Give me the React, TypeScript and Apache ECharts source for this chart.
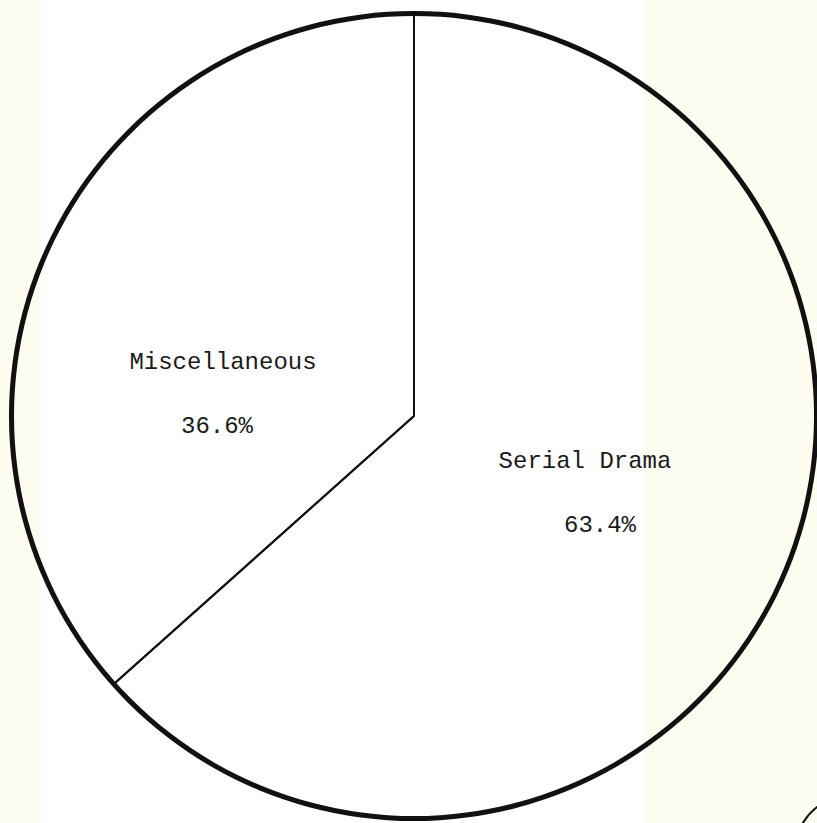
import React, { useEffect, useRef } from "react";
import * as echarts from "echarts";

const categories = ["Serial Drama", "Miscellaneous"];
const shares = [63.4, 36.6];
const outline = [100];

export default function App() {
  const ref = useRef<HTMLDivElement>(null);
  useEffect(() => {
    document.body.style.margin = "0";
    const chart = echarts.init(ref.current!, null, { renderer: "svg" });
    const labelSpots = [
      { x: 585, y: 493 },
      { x: 223, y: 394 },
    ];
    const valuePad = [
      [0, 0, 0, 30],
      [0, 12, 0, 0],
    ];
    const baseText = {
      fontFamily: "Liberation Mono",
      fontSize: 24,
      lineHeight: 32,
      color: "#1a1a1a",
    };
    chart.setOption({
      animation: false,
      backgroundColor: "#ffffff",
      graphic: [
        { type: "rect", z: -10, shape: { x: 0, y: 0, width: 41, height: 823 }, style: { fill: "#fdfcf0" } },
        { type: "rect", z: -10, shape: { x: 645, y: 0, width: 172, height: 823 }, style: { fill: "#fdfcf0" } },
        { type: "circle", shape: { cx: 852, cy: 852, r: 57 }, style: { fill: "none", stroke: "#111", lineWidth: 2 } },
      ],
      series: [
        {
          type: "pie",
          center: [414, 416],
          radius: [0, 402],
          startAngle: 90,
          clockwise: true,
          silent: true,
          itemStyle: { color: "rgba(0,0,0,0)", borderColor: "#111", borderWidth: 2 },
          label: {
            show: true,
            position: "inside",
            formatter: (p: any) => `{n|${p.name}}\n\n{v|${p.value}%}`,
            ...baseText,
            align: "center",
          },
          labelLine: { show: false },
          labelLayout: (params: any) => ({
            x: labelSpots[params.dataIndex].x,
            y: labelSpots[params.dataIndex].y,
            align: "center",
            verticalAlign: "middle",
          }),
          data: categories.map((c, i) => ({
            name: c,
            value: shares[i],
            label: {
              rich: {
                n: { ...baseText },
                v: { ...baseText, padding: valuePad[i] },
              },
            },
          })),
        },
        {
          type: "pie",
          center: [414, 416],
          radius: [400, 405],
          silent: true,
          label: { show: false },
          labelLine: { show: false },
          itemStyle: { color: "#111", borderWidth: 0 },
          data: outline.map((v) => ({ name: "outline", value: v })),
        },
      ],
    });
    return () => chart.dispose();
  }, []);
  return <div ref={ref} style={{ position: "absolute", left: 0, top: 0, width: 817, height: 823 }} />;
}
